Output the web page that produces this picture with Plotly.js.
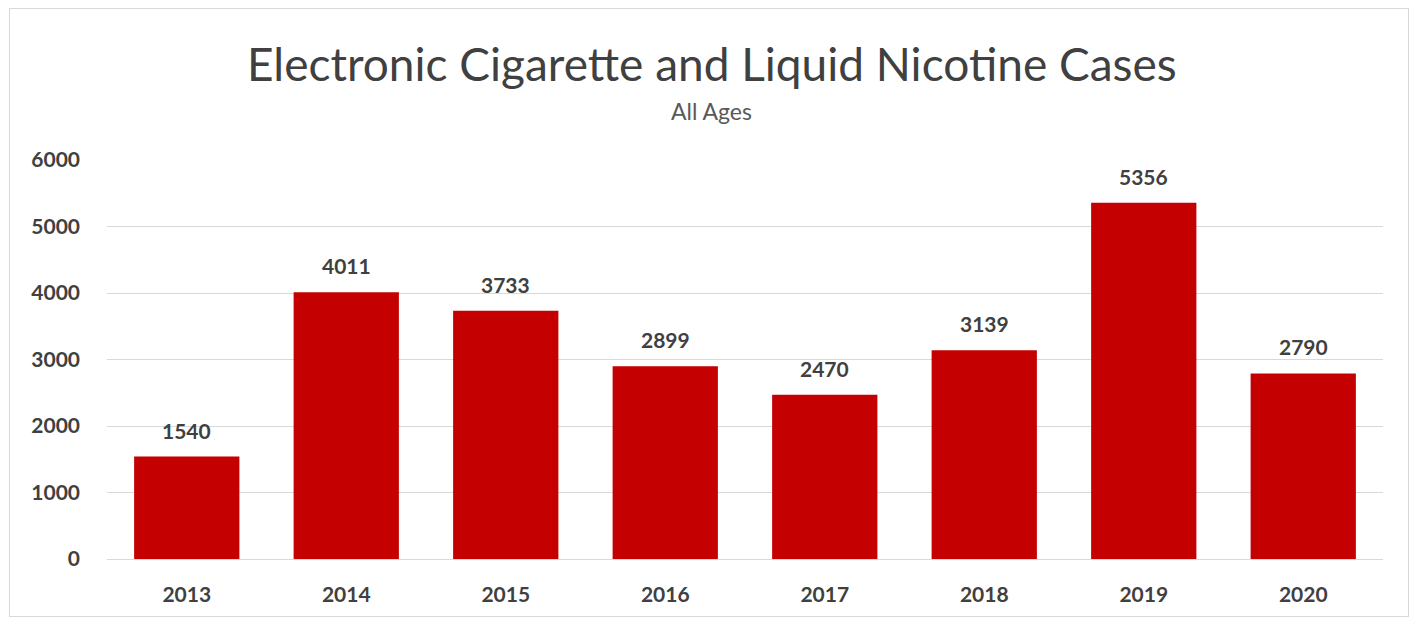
<!DOCTYPE html>
<html><head><meta charset="utf-8">
<script src="https://cdn.plot.ly/plotly-3.0.1.min.js"></script>
<style>
html,body{margin:0;padding:0;background:#fff;}
#frame{position:absolute;left:9px;top:8px;width:1400px;height:609px;border:1px solid #d9d9d9;box-sizing:border-box;}
#chart{position:absolute;left:0;top:0;width:1416px;height:622px;}
</style></head>
<body>
<div id="frame"></div>
<div id="chart"></div>
<script>
const years = ['2013','2014','2015','2016','2017','2018','2019','2020'];
const cases = [1540, 4011, 3733, 2899, 2470, 3139, 5356, 2790];
const yTicks = [0, 1000, 2000, 3000, 4000, 5000, 6000];
const titleText = 'Electronic Cigarette and Liquid Nicotine Cases';
const subtitleText = 'All Ages';

const FONT = 'Lato, "Open Sans", sans-serif';

const trace = {
  type: 'bar',
  x: years,
  y: cases,
  marker: {color: '#C40000'},
  hoverinfo: 'x+y'
};

const valueLabels = years.map((yr, i) => ({
  x: i, y: cases[i], xref: 'x', yref: 'y',
  text: String(cases[i]),
  showarrow: false, yanchor: 'bottom', yshift: 12,
  font: {family: FONT, size: 21, color: '#404040', weight: 'bold'}
}));

const layout = {
  width: 1416, height: 622,
  paper_bgcolor: 'rgba(0,0,0,0)',
  plot_bgcolor: 'rgba(0,0,0,0)',
  margin: {l: 107, r: 33, t: 160, b: 63},
  bargap: 0.34,
  showlegend: false,
  font: {family: FONT, color: '#404040'},
  annotations: [
    {text: titleText, xref: 'paper', yref: 'paper', x: 0.474, y: 1.243,
     xanchor: 'center', yanchor: 'middle', showarrow: false,
     font: {family: FONT, size: 46, color: '#404040'}},
    {text: subtitleText, xref: 'paper', yref: 'paper', x: 0.474, y: 1.1228,
     xanchor: 'center', yanchor: 'middle', showarrow: false,
     font: {family: FONT, size: 23, color: '#595959'}}
  ].concat(valueLabels),
  xaxis: {
    type: 'category',
    categoryorder: 'array',
    categoryarray: years,
    showgrid: false,
    showline: false,
    zeroline: false,
    ticks: '',
    ticklabelstandoff: 21,
    tickfont: {family: FONT, size: 21, color: '#404040', weight: 'bold'}
  },
  yaxis: {
    range: [0, 6000],
    tickvals: yTicks,
    ticktext: yTicks.map(String),
    showgrid: true,
    gridcolor: '#d9d9d9',
    gridwidth: 1,
    zeroline: true,
    zerolinecolor: '#d9d9d9',
    showline: false,
    ticks: '',
    ticklabelstandoff: 26,
    tickfont: {family: FONT, size: 21, color: '#404040', weight: 'bold'}
  }
};

Plotly.newPlot('chart', [trace], layout, {displayModeBar: false, staticPlot: true});
</script>
</body></html>
